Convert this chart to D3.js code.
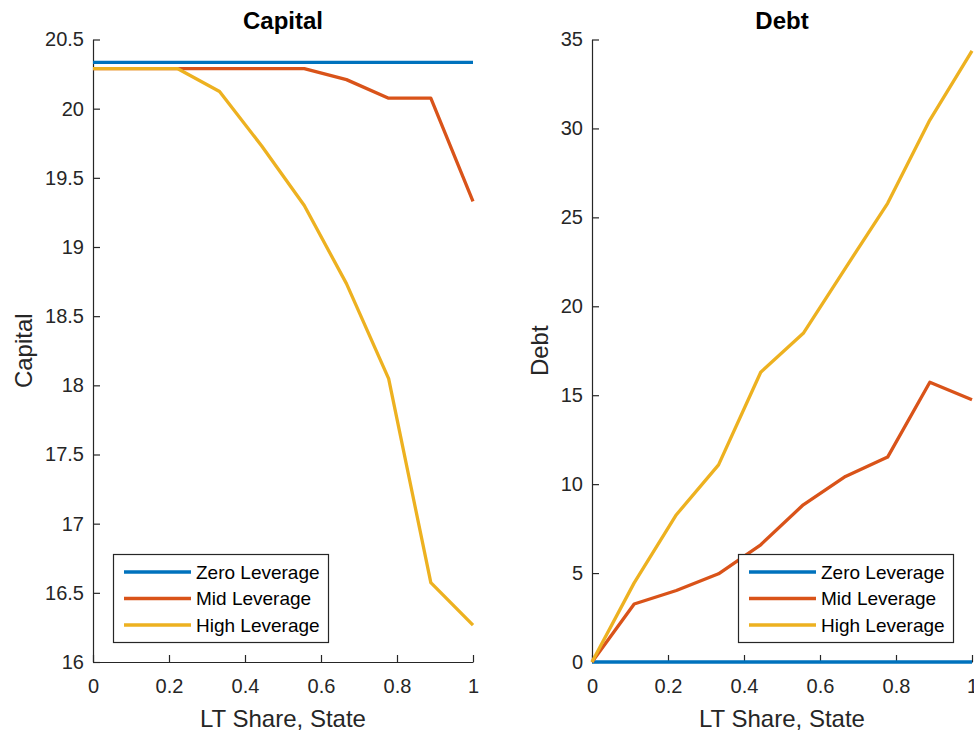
<!DOCTYPE html>
<html>
<head>
<meta charset="utf-8">
<script src="https://cdn.jsdelivr.net/npm/d3@7"></script>
<style>
  body { margin: 0; background: #fff; }
  svg { display: block; font-family: "Liberation Sans", Arial, sans-serif; }
</style>
</head>
<body>
<div id="chart"></div>
<script>
// LT share grid (10 states)
const ltShare = [0, 0.111, 0.222, 0.333, 0.444, 0.556, 0.667, 0.778, 0.889, 1];

const capitalZero = [20.335, 20.335, 20.335, 20.335, 20.335, 20.335, 20.335, 20.335, 20.335, 20.335];
const capitalMid  = [20.29, 20.29, 20.29, 20.29, 20.29, 20.29, 20.21, 20.076, 20.076, 19.33];
const capitalHigh = [20.29, 20.29, 20.29, 20.124, 19.73, 19.30, 18.735, 18.048, 16.574, 16.266];

const debtZero = [0, 0, 0, 0, 0, 0, 0, 0, 0, 0];
const debtMid  = [0, 3.26, 4.02, 4.96, 6.59, 8.84, 10.43, 11.52, 15.73, 14.74];
const debtHigh = [0, 4.45, 8.28, 11.08, 16.29, 18.48, 22.15, 25.79, 30.47, 34.36];

const seriesNames = ['Zero Leverage', 'Mid Leverage', 'High Leverage'];
const seriesColors = ['#0072BD', '#D95319', '#EDB120'];

const xTicks = [0, 0.2, 0.4, 0.6, 0.8, 1];
const capitalTicks = [16, 16.5, 17, 17.5, 18, 18.5, 19, 19.5, 20, 20.5];
const debtTicks = [0, 5, 10, 15, 20, 25, 30, 35];

const width = 974, height = 735;
const axisColor = '#262626';

const svg = d3.select('#chart')
    .append('svg')
    .attr('width', width)
    .attr('height', height);

function drawPanel(opts) {
    let left = opts.left, right = opts.right, top = 39.5, bottom = 662;

    let scaleX = d3.scaleLinear().domain([0, 1]).range([left, right]);
    let scaleY = d3.scaleLinear().domain(opts.yDomain).range([bottom, top]);

    let g = svg.append('g');

    let xAxis = d3.axisBottom(scaleX)
        .tickValues(xTicks)
        .tickFormat(d3.format('~g'))
        .tickSizeInner(-7)
        .tickSizeOuter(0)
        .tickPadding(17);

    let yAxis = d3.axisLeft(scaleY)
        .tickValues(opts.yTicks)
        .tickFormat(d3.format('~g'))
        .tickSizeInner(-7)
        .tickSizeOuter(0)
        .tickPadding(9);

    let xg = g.append('g')
        .attr('transform', 'translate(0,' + bottom + ')')
        .call(xAxis);
    let yg = g.append('g')
        .attr('transform', 'translate(' + left + ',0)')
        .call(yAxis);

    [xg, yg].forEach(a => {
        a.selectAll('path, line').attr('stroke', axisColor).attr('stroke-width', 1.2);
        a.selectAll('text').attr('fill', axisColor).style('font-size', '20px').attr('font-family', null);
    });

    let line = d3.line()
        .x((d, i) => scaleX(ltShare[i]))
        .y(d => scaleY(d));

    opts.series.forEach((s, i) => {
        g.append('path')
            .datum(s)
            .attr('d', line)
            .style('fill', 'none')
            .style('stroke', seriesColors[i])
            .style('stroke-width', 3.3)
            .style('stroke-linejoin', 'round');
    });

    // title
    g.append('text')
        .attr('x', (left + right) / 2)
        .attr('y', 29)
        .style('text-anchor', 'middle')
        .style('font-weight', 'bold')
        .style('font-size', '24px')
        .style('fill', '#000')
        .text(opts.title);

    // x label
    g.append('text')
        .attr('x', (left + right) / 2)
        .attr('y', 727)
        .style('text-anchor', 'middle')
        .style('font-size', '24px')
        .style('fill', axisColor)
        .text('LT Share, State');

    // y label
    g.append('text')
        .attr('transform', 'translate(' + opts.yLabelX + ',' + ((top + bottom) / 2) + ') rotate(-90)')
        .style('text-anchor', 'middle')
        .style('font-size', '24px')
        .style('fill', axisColor)
        .text(opts.title);

    // legend
    let lg = g.append('g')
        .attr('transform', 'translate(' + opts.legendX + ',554)');
    lg.append('rect')
        .attr('x', 0.5)
        .attr('y', 0.5)
        .attr('width', 215)
        .attr('height', 88)
        .style('fill', '#fff')
        .style('stroke', axisColor)
        .style('stroke-width', 1.2);
    seriesNames.forEach((name, i) => {
        let yy = 18 + i * 26.5;
        lg.append('line')
            .attr('x1', 11).attr('x2', 78)
            .attr('y1', yy).attr('y2', yy)
            .style('stroke', seriesColors[i])
            .style('stroke-width', 3.3);
        lg.append('text')
            .attr('x', 83)
            .attr('y', yy)
            .attr('dy', '0.36em')
            .style('font-size', '19px')
            .style('fill', '#000')
            .text(name);
    });
}

drawPanel({
    left: 93, right: 473,
    yDomain: [16, 20.5], yTicks: capitalTicks,
    series: [capitalZero, capitalMid, capitalHigh],
    title: 'Capital', yLabelX: 31.5, legendX: 113
});

drawPanel({
    left: 592, right: 972,
    yDomain: [0, 35], yTicks: debtTicks,
    series: [debtZero, debtMid, debtHigh],
    title: 'Debt', yLabelX: 548, legendX: 738
});
</script>
</body>
</html>
